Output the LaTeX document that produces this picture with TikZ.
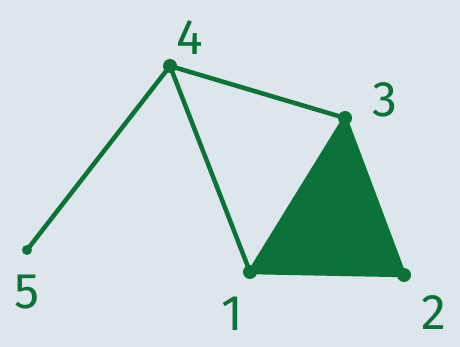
\documentclass[tikz,border=0pt]{standalone}
\usepackage{fontspec}
\setmainfont{Fira Sans}
\definecolor{pen}{HTML}{0B7338}
\definecolor{paper}{HTML}{DCE6EC}
\tikzset{
  edge/.style={draw=pen, line width=4.5pt, line cap=round, line join=round},
  vdot/.style={circle, fill=pen, inner sep=0pt, minimum size=14pt},
  lbl/.style={text=pen, font=\fontsize{50}{50}\selectfont, inner sep=0pt}
}
\begin{document}
\begin{tikzpicture}[x=1pt,y=-1pt]
\fill[paper] (0,0) rectangle (460,347);
\useasboundingbox (0,0) rectangle (460,347);
\node[vdot] (v4) at (170,66) {};
\node[vdot] (v3) at (345,118) {};
\node[vdot] (v1) at (250,272) {};
\node[vdot] (v2) at (404,275) {};
\node[vdot, minimum size=10pt] (v5) at (27,250) {};
\fill[pen, edge] (v1.center) -- (v2.center) -- (v3.center) -- cycle;
\draw[edge] (v5.center) -- (v4.center);
\draw[edge] (v4.center) -- (v1.center);
\draw[edge] (v4.center) -- (v3.center);
\node[lbl] (l4) at (190,38) {4};
\node[lbl] (l3) at (385,100) {3};
\node[lbl] (l1) at (232,314) {1};
\node[lbl] (l2) at (434,313) {2};
\node[lbl] (l5) at (27,292) {5};
\end{tikzpicture}
\end{document}
